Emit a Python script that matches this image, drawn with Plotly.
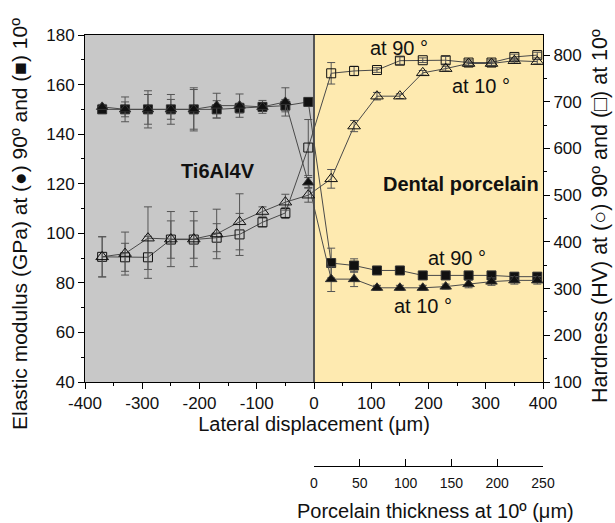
import plotly.graph_objects as go

# ---------------- data ----------------
x_pos = [-370, -330, -290, -250, -210, -170, -130, -90, -50, -10,
         30, 70, 110, 150, 190, 230, 270, 310, 350, 390]

# Elastic modulus (GPa) - filled symbols (left axis)
E_90 = [150, 150, 150, 150, 150, 150, 150.5, 151, 151.5, 153,
        88, 87, 85, 85, 83, 83, 83, 83, 82.5, 82.5]
E_90_err = [1.5, 3, 6, 4, 8, 3.5, 2, 1.5, 2.5, 1.5,
            6, 2.7, 1, 1.5, 1, 1, 1.5, 1.5, 1.5, 1.5]
E_10 = [151, 150, 150, 150, 150, 151.5, 151.5, 151, 153, 120.5,
        81.5, 81.5, 78, 78, 78, 78.5, 79.5, 80.5, 81, 81]
E_10_err = [1, 5, 7.5, 6, 8.7, 5, 4.7, 2.6, 5.7, 2,
            5, 3, 1, 1, 1, 1, 1.5, 1.5, 1.5, 1.5]

# Hardness (HV) - open symbols (right axis)
H_90 = [368, 367, 367, 405, 405, 409, 416, 442, 462, 602,
        761, 766, 768, 788, 789, 789, 784, 784, 796, 800]
H_90_err = [43, 30, 45, 40, 40, 30, 45, 10, 12, 60,
            23, 10, 5, 8, 5, 8, 6, 6, 6, 6]
H_10 = [368, 375, 408, 406, 406, 417, 443, 465, 485, 500,
        535, 648, 712, 712, 762, 771, 782, 782, 788, 786]
H_10_err = [43, 46, 67, 59, 59, 53, 60, 10, 17, 15,
            20, 12, 8, 5, 5, 5, 5, 5, 5, 5]

x_ticks = [-400, -300, -200, -100, 0, 100, 200, 300, 400]
x_tick_labels = ["-400", "-300", "-200", "-100", "0", "100", "200", "300", "400"]
thick_ticks = [0, 50, 100, 150, 200, 250]

FONT = "Liberation Sans, Arial, sans-serif"
LINE_C = "#4a4a4a"
ERR_C = "#555555"
TXT_C = "#111111"

fig = go.Figure()

def add_series(y, err, symbol, axis, size):
    fig.add_trace(go.Scatter(
        x=x_pos, y=y, yaxis=axis, mode="lines+markers",
        line=dict(color=LINE_C, width=1),
        marker=dict(symbol=symbol, size=size, color="#111111",
                    line=dict(color="#333333", width=1)),
        error_y=dict(type="data", array=err, color=ERR_C, thickness=1, width=4),
        showlegend=False, hoverinfo="x+y"))

add_series(H_90, H_90_err, "square-open", "y2", 9)
add_series(H_10, H_10_err, "triangle-up-open", "y2", 11)
add_series(E_90, E_90_err, "square", "y", 9)
add_series(E_10, E_10_err, "triangle-up", "y", 10)

# dummy trace for secondary thickness axis
fig.add_trace(go.Scatter(x=[thick_ticks[0], thick_ticks[-1]], y=[None, None],
                         xaxis="x2", yaxis="y", mode="markers",
                         showlegend=False, hoverinfo="skip"))

# background regions
fig.add_shape(type="rect", xref="x", yref="y domain", x0=-400, x1=0, y0=0, y1=1,
              fillcolor="#c8c8c8", line=dict(width=0), layer="below")
fig.add_shape(type="rect", xref="x", yref="y domain", x0=0, x1=400, y0=0, y1=1,
              fillcolor="#feeab0", line=dict(width=0), layer="below")
fig.add_shape(type="line", xref="x", yref="y domain", x0=0, x1=0, y0=0, y1=1,
              line=dict(color="#555555", width=2), layer="below")

ann_font = dict(family=FONT, size=20, color=TXT_C)
for txt, xx, yy in [("<b>Ti6Al4V</b>", -168, 125),
                    ("<b>Dental porcelain</b>", 256, 120),
                    ("at 90 °", 148, 174.8),
                    ("at 10 °", 292, 159.4),
                    ("at 90 °", 250, 90),
                    ("at 10 °", 190, 70.7)]:
    fig.add_annotation(x=xx, y=yy, xref="x", yref="y", text=txt, showarrow=False,
                       font=ann_font)

# axis titles as annotations (paper coords; plot area px: x 85-543, y 35-466)
PW, PH, PL, PB = 458, 431, 85, 466
def px(xp):
    return (xp - PL) / PW
def py(yp):
    return (PB - yp) / PH

fig.add_annotation(x=px(19), y=py(224), xref="paper", yref="paper",
                   text="Elastic modulus (GPa) at (\u25cf) 90\u00ba and (\u25a0) 10\u00ba",
                   textangle=-90, showarrow=False, xanchor="center", yanchor="middle",
                   font=dict(family=FONT, size=21, color=TXT_C))
fig.add_annotation(x=px(600), y=py(216), xref="paper", yref="paper",
                   text="Hardness (HV) at (\u25cb) 90\u00ba and (\u25a1) at 10\u00ba",
                   textangle=-90, showarrow=False, xanchor="center", yanchor="middle",
                   font=dict(family=FONT, size=21.5, color=TXT_C))
fig.add_annotation(x=px(435), y=py(511), xref="paper", yref="paper",
                   text="Porcelain thickness at 10\u00ba (\u03bcm)",
                   showarrow=False, xanchor="center", yanchor="middle",
                   font=dict(family=FONT, size=20, color=TXT_C))

axis_common = dict(showline=True, linecolor="black", linewidth=1, ticks="outside",
                   ticklen=6, tickcolor="black", showgrid=False, zeroline=False,
                   tickfont=dict(family=FONT, size=17, color=TXT_C))

dom_bottom = (466 - 382) / PH

fig.update_layout(
    width=615, height=523,
    margin=dict(l=85, r=72, t=35, b=57),
    paper_bgcolor="white", plot_bgcolor="rgba(0,0,0,0)",
    font=dict(family=FONT, color=TXT_C),
    xaxis=dict(range=[-400, 400], tickvals=x_ticks, ticktext=x_tick_labels, mirror=True,
               minor=dict(dtick=50, ticks="outside", ticklen=3, tickcolor="black"),
               title=dict(text="Lateral displacement (\u03bcm)",
                          font=dict(family=FONT, size=20), standoff=0),
               anchor="y", **axis_common),
    yaxis=dict(range=[40, 180], dtick=20, domain=[dom_bottom, 1],
               minor=dict(dtick=10, ticks="outside", ticklen=3, tickcolor="black"),
               **axis_common),
    yaxis2=dict(range=[100, 843], dtick=100, overlaying="y", side="right",
                minor=dict(dtick=50, ticks="outside", ticklen=3, tickcolor="black"),
                **axis_common),
    xaxis2=dict(range=[0, 250], domain=[0.5, 1], anchor="free", position=0,
                tickvals=thick_ticks, showline=True, linecolor="black", linewidth=1,
                ticks="inside", ticklen=7, tickcolor="black", showgrid=False,
                zeroline=False, tickfont=dict(family=FONT, size=14, color=TXT_C),
                ticklabelstandoff=4),
)

fig.write_html("out.html")
